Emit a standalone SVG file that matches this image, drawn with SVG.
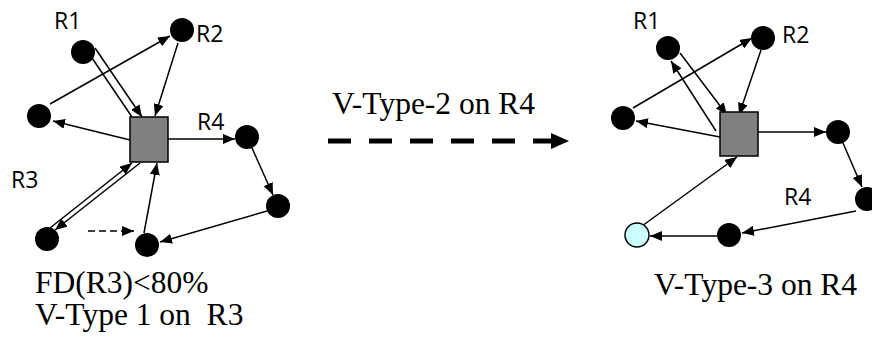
<svg xmlns="http://www.w3.org/2000/svg" width="872" height="338" viewBox="0 0 872 338">
<style>
.n{fill:#000}
.sq{fill:#808080;stroke:#000;stroke-width:1.5}
.lb{fill:#ccffff;stroke:#000;stroke-width:1.5}
.e{stroke:#000;stroke-width:1.5;fill:none}
.a{marker-end:url(#ah)}
.dash{stroke-dasharray:7 4}
.big{stroke:#000;stroke-width:5;fill:none;stroke-dasharray:23 18;marker-end:url(#bh)}
.r{font-family:"Open Sans","Liberation Sans",sans-serif;font-size:23px;fill:#000}
.t{font-family:"Liberation Serif","Times New Roman",serif;font-size:31.5px;fill:#000}
</style>
<defs>
<marker id="ah" markerUnits="userSpaceOnUse" markerWidth="12" markerHeight="10" refX="12" refY="5" orient="auto">
<path d="M0,0 L12,5 L0,10 z" fill="#000"/>
</marker>
<marker id="bh" markerUnits="userSpaceOnUse" markerWidth="18" markerHeight="16" refX="0" refY="8" orient="auto">
<path d="M0,0 L18,8 L0,16 z" fill="#000"/>
</marker>
</defs>

<g id="connectors">
<!-- left diagram -->
<line class="e a" x1="50" y1="104" x2="170" y2="36"/>
<line class="e a" x1="130" y1="140" x2="53" y2="121"/>
<line class="e a" x1="178" y1="43" x2="155" y2="116"/>
<line class="e a" x1="95" y1="48" x2="142" y2="117"/>
<line class="e" x1="92" y1="58" x2="132" y2="117"/>
<line class="e a" x1="168" y1="139" x2="235" y2="139"/>
<line class="e a" x1="252" y1="148" x2="273" y2="195"/>
<line class="e a" x1="267" y1="211" x2="160" y2="242"/>
<line class="e a" x1="144" y1="233" x2="157" y2="163"/>
<line class="e a" x1="50" y1="228" x2="132" y2="163"/>
<line class="e a" x1="140" y1="163" x2="55" y2="230"/>
<line class="e a dash" x1="88" y1="231" x2="134" y2="231"/>
<!-- big arrow -->
<line class="big" x1="328" y1="141" x2="551" y2="141"/>
<!-- right diagram -->
<line class="e a" x1="680" y1="53" x2="727" y2="115"/>
<line class="e a" x1="716" y1="131" x2="671" y2="61"/>
<line class="e a" x1="761" y1="50" x2="739" y2="115"/>
<line class="e a" x1="720" y1="137" x2="636" y2="121"/>
<line class="e a" x1="633" y1="108" x2="752" y2="38"/>
<line class="e a" x1="758" y1="132" x2="826" y2="132"/>
<line class="e a" x1="843" y1="143" x2="862" y2="187"/>
<line class="e a" x1="856" y1="211" x2="742" y2="233"/>
<line class="e a" x1="717" y1="236" x2="650" y2="236"/>
<line class="e a" x1="642" y1="226" x2="737" y2="157"/>
</g>

<g id="L-R1"><circle class="n" cx="83" cy="52" r="12"/></g>
<g id="L-R2"><circle class="n" cx="182" cy="30" r="12"/></g>
<g id="L-left"><circle class="n" cx="39" cy="116" r="12"/></g>
<g id="L-hub"><rect class="sq" x="130" y="117" width="38" height="45"/></g>
<g id="L-R4a"><circle class="n" cx="247" cy="137" r="12"/></g>
<g id="L-R4b"><circle class="n" cx="278" cy="206" r="12"/></g>
<g id="L-bm"><circle class="n" cx="147" cy="245" r="12"/></g>
<g id="L-R3"><circle class="n" cx="47" cy="239" r="12"/></g>

<g id="R-R1"><circle class="n" cx="668" cy="48" r="12"/></g>
<g id="R-R2"><circle class="n" cx="763" cy="38" r="12"/></g>
<g id="R-left"><circle class="n" cx="623" cy="118" r="12"/></g>
<g id="R-hub"><rect class="sq" x="720" y="112" width="38" height="44"/></g>
<g id="R-R4a"><circle class="n" cx="838" cy="132" r="12"/></g>
<g id="R-R4b"><circle class="n" cx="867" cy="199" r="12"/></g>
<g id="R-bm"><circle class="n" cx="729" cy="235" r="12"/></g>
<g id="R-new"><circle class="lb" cx="637" cy="235" r="12"/></g>

<g id="labels">
<text class="r" x="54" y="28.5">R1</text>
<text class="r" x="196" y="42">R2</text>
<text class="r" x="197" y="130">R4</text>
<text class="r" x="11" y="188">R3</text>
<text class="r" x="633" y="29">R1</text>
<text class="r" x="782" y="43">R2</text>
<text class="r" x="784" y="205">R4</text>
<text class="t" x="332" y="114">V-Type-2 on R4</text>
<text class="t" x="35" y="293">FD(R3)&lt;80%</text>
<text class="t" x="35" y="325" xml:space="preserve">V-Type 1 on  R3</text>
<text class="t" x="654" y="295">V-Type-3 on R4</text>
</g>
</svg>
